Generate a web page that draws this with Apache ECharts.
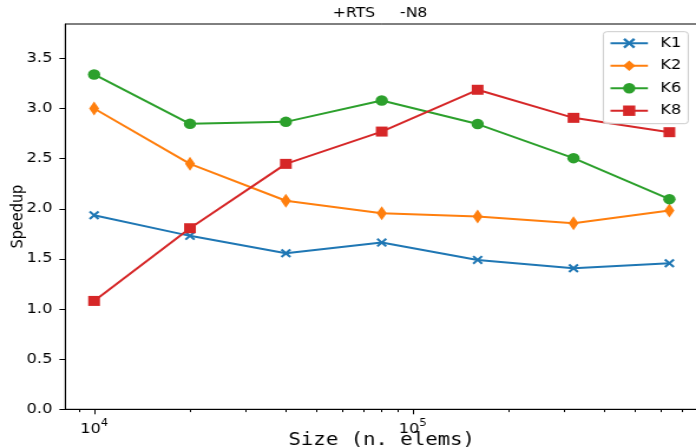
<!DOCTYPE html>
<html>
<head>
<meta charset="utf-8">
<script src="https://cdn.jsdelivr.net/npm/echarts@6/dist/echarts.min.js"></script>
<style>
html, body { margin: 0; padding: 0; overflow: hidden; background: #fff; }
/* the reference is stretched sideways, so draw narrower and widen */
#main { width: 590px; height: 448px; transform: scaleX(1.1797); transform-origin: 0 0; }
</style>
</head>
<body>
<div id="main"></div>
<script>
// sizes (n. elems), log x axis
var sizes = [10000, 20000, 40000, 80000, 160000, 320000, 640000];

// speedup per kernel
var k1 = [1.936, 1.73, 1.557, 1.663, 1.49, 1.407, 1.457];
var k2 = [3.00, 2.448, 2.08, 1.956, 1.922, 1.856, 1.982];
var k6 = [3.34, 2.847, 2.867, 3.08, 2.845, 2.505, 2.096];
var k8 = [1.081, 1.806, 2.448, 2.77, 3.187, 2.907, 2.764];

var names = ['K1', 'K2', 'K6', 'K8'];
var yTicks = [0, 0.5, 1, 1.5, 2, 2.5, 3, 3.5];
var xMajor = [10000, 100000];
var xMinor = [9000, 20000, 30000, 40000, 50000, 60000, 70000, 80000, 90000,
              200000, 300000, 400000, 500000, 600000, 700000];

var font = 'DejaVu Sans';

function pairs(vals) {
	var out = [];
	for (var i = 0; i < sizes.length; i++) {
		out.push([sizes[i], vals[i]]);
	}
	return out;
}

function makeSeries(name, vals, color, symbol, size) {
	return {
		name: name,
		type: 'line',
		xAxisIndex: 0,
		data: pairs(vals),
		symbol: symbol,
		symbolSize: size,
		lineStyle: { width: 2, color: color },
		itemStyle: { color: color },
		emphasis: { disabled: true }
	};
}

var xMark = 'path://M0,1.6L1.6,0L5,3.4L8.4,0L10,1.6L6.6,5L10,8.4L8.4,10L5,6.6L1.6,10L0,8.4L3.4,5Z';

var chart = echarts.init(document.getElementById('main'));
var option = {
	animation: false,
	backgroundColor: '#fff',
	title: {
		text: '+RTS     -N8',
		left: 282,
		top: 7.5,
		padding: 0,
		textStyle: { fontFamily: font, fontSize: 13.3, fontWeight: 'normal', color: '#000' }
	},
	legend: {
		orient: 'vertical',
		left: 511.4,
		top: 31.7,
		padding: [4.5, 6, 6, 5.1],
		itemWidth: 31.7,
		itemHeight: 13,
		itemGap: 8.5,
		backgroundColor: 'rgba(255,255,255,0.8)',
		borderColor: '#cccccc',
		borderWidth: 1,
		borderRadius: 3,
		textStyle: { fontFamily: font, fontSize: 13.7, color: '#000', padding: [0, 0, 0, 5.5] },
		data: names
	},
	grid: {
		left: 55.35,
		top: 24,
		width: 536.4,
		height: 385.3,
		show: true,
		borderColor: '#000',
		borderWidth: 1,
		containLabel: false,
		outerBoundsMode: 'none'
	},
	xAxis: [{
		type: 'log',
		logBase: 10,
		min: 8121,
		max: 787600,
		position: 'bottom',
		name: 'Size (n. elems)',
		nameLocation: 'middle',
		nameGap: 22,
		nameMoveOverlap: false,
		nameTextStyle: { fontFamily: 'DejaVu Sans Mono', fontSize: 17.5, color: '#000' },
		axisLine: { show: true, lineStyle: { color: '#000', width: 1 } },
		axisTick: { show: true, length: 5, customValues: xMajor, lineStyle: { color: '#000', width: 1 } },
		axisLabel: {
			customValues: xMajor,
			margin: 9,
			color: '#000',
			formatter: function(v) {
				var e = Math.round(Math.log10(v));
				return '{a|10}{b|' + e + '}';
			},
			rich: {
				a: { fontFamily: font, fontSize: 13.7, lineHeight: 18, verticalAlign: 'bottom', color: '#000' },
				b: { fontFamily: font, fontSize: 9.6, lineHeight: 12, verticalAlign: 'top', color: '#000' }
			}
		},
		splitLine: { show: false }
	}, {
		type: 'log',
		logBase: 10,
		min: 8121,
		max: 787600,
		position: 'bottom',
		axisLine: { show: false },
		axisTick: { show: true, length: 2.8, customValues: xMinor, lineStyle: { color: '#000', width: 1 } },
		axisLabel: { show: false },
		splitLine: { show: false }
	}],
	yAxis: {
		type: 'value',
		min: 0,
		max: 3.843,
		name: 'Speedup',
		nameLocation: 'middle',
		nameGap: 32.5,
		nameMoveOverlap: false,
		nameTextStyle: { fontFamily: font, fontSize: 14.5, color: '#000' },
		axisLine: { show: true, lineStyle: { color: '#000', width: 1 } },
		axisTick: { show: true, length: 5, customValues: yTicks, lineStyle: { color: '#000', width: 1 } },
		axisLabel: {
			customValues: yTicks,
			margin: 11,
			fontFamily: font,
			fontSize: 13.7,
			color: '#000',
			formatter: function(v) { return v.toFixed(1); }
		},
		splitLine: { show: false }
	},
	series: [
		makeSeries('K1', k1, '#1f77b4', xMark, [9, 9]),
		makeSeries('K2', k2, '#ff7f0e', 'diamond', [8.5, 14]),
		makeSeries('K6', k6, '#2ca02c', 'circle', 10.5),
		makeSeries('K8', k8, '#d62728', 'rect', 10)
	]
};
chart.setOption(option);
</script>
</body>
</html>
